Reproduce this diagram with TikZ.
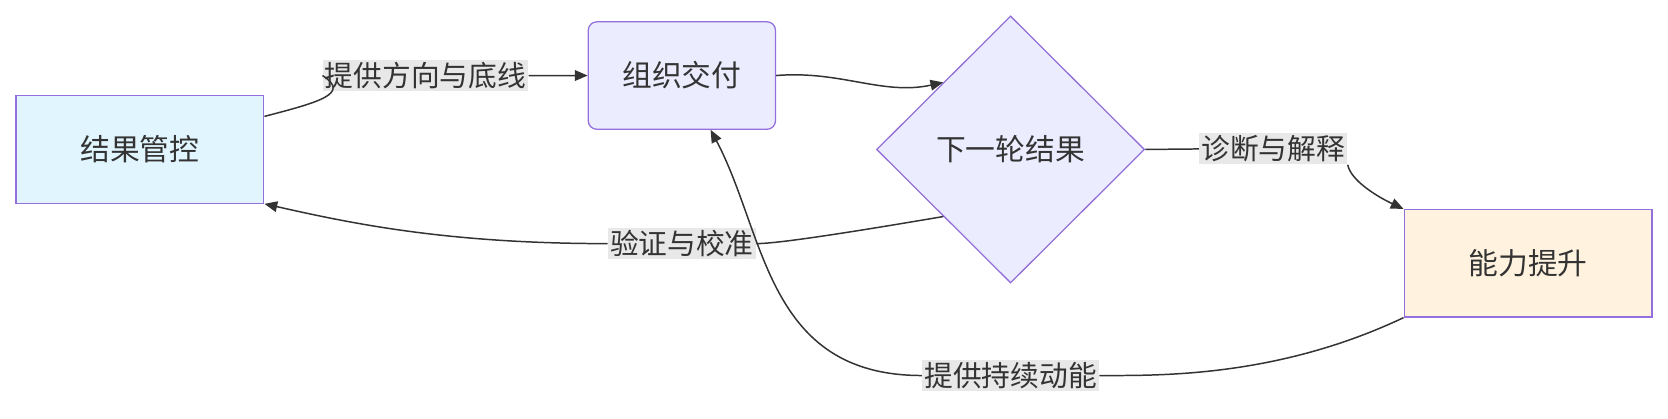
\documentclass[tikz,border=0pt]{standalone}
\usepackage{fontspec}
\setmainfont{Noto Sans CJK SC}
\usetikzlibrary{shapes.geometric,arrows.meta}
\definecolor{lineC}{HTML}{9370DB}
\definecolor{edgeC}{HTML}{333333}
\definecolor{blueF}{HTML}{E1F5FE}
\definecolor{purpF}{HTML}{ECECFF}
\definecolor{orgF}{HTML}{FFF3E0}
\definecolor{lblF}{HTML}{E8E8E8}
\tikzset{
  box/.style={draw=lineC, line width=0.6pt, minimum width=116.5pt, minimum height=50.5pt, inner sep=0pt, text=edgeC, font=\fontsize{14pt}{16pt}\selectfont},
  flow/.style={draw=edgeC, line width=0.7pt, -{Triangle[length=6pt,width=5pt]}},
  lbl/.style={fill=lblF, inner sep=1pt, font=\fontsize{13.5pt}{15pt}\selectfont, text=edgeC}
}
\begin{document}
\begin{tikzpicture}[x=0.5pt,y=-0.5pt]
  \useasboundingbox (0,0) rectangle (1568,393);

  % Nodes
  \node[box, fill=blueF] (ctrl) at (131.5,140.5) {结果管控};
  \node[box, fill=purpF, rounded corners=4pt, minimum width=88pt] (org) at (641,71) {组织交付};
  \node[diamond, draw=lineC, line width=0.6pt, fill=purpF, text=edgeC, minimum width=126pt, minimum height=125.5pt, inner sep=0pt, font=\fontsize{14pt}{16pt}\selectfont] (next) at (950,140.5) {下一轮结果};
  \node[box, fill=orgF] (cap) at (1436.5,247.5) {能力提升};

  % Labels
  \node[lbl] (l1) at (400,71) {提供方向与底线};
  \node[lbl] (l2) at (641,229) {验证与校准};
  \node[lbl] (l3) at (1197,140) {诊断与解释};
  \node[lbl] (l4) at (950,353) {提供持续动能};

  % Edges
  \draw[flow] (ctrl.north east) ++(0,20) .. controls (300,96) and (330,88) .. (l1.west)
    (l1.east) -- (org.west);
  \draw[flow] (org.east) .. controls (790,66) and (830,90) .. (next.north west);
  \draw[flow] (next.south west) .. controls (790,220) and (730,229) .. (l2.east)
    (l2.west) .. controls (420,229) and (330,210) .. (ctrl.south east);
  \draw[flow] (next.east) -- (l3.west)
    (l3.south east) .. controls (1270,170) and (1295,185) .. (cap.north west);
  \draw[flow] (cap.south west) .. controls (1200,355) and (1090,353) .. (l4.east)
    (l4.west) .. controls (720,353) and (720,220) .. (668,122);
\end{tikzpicture}
\end{document}
